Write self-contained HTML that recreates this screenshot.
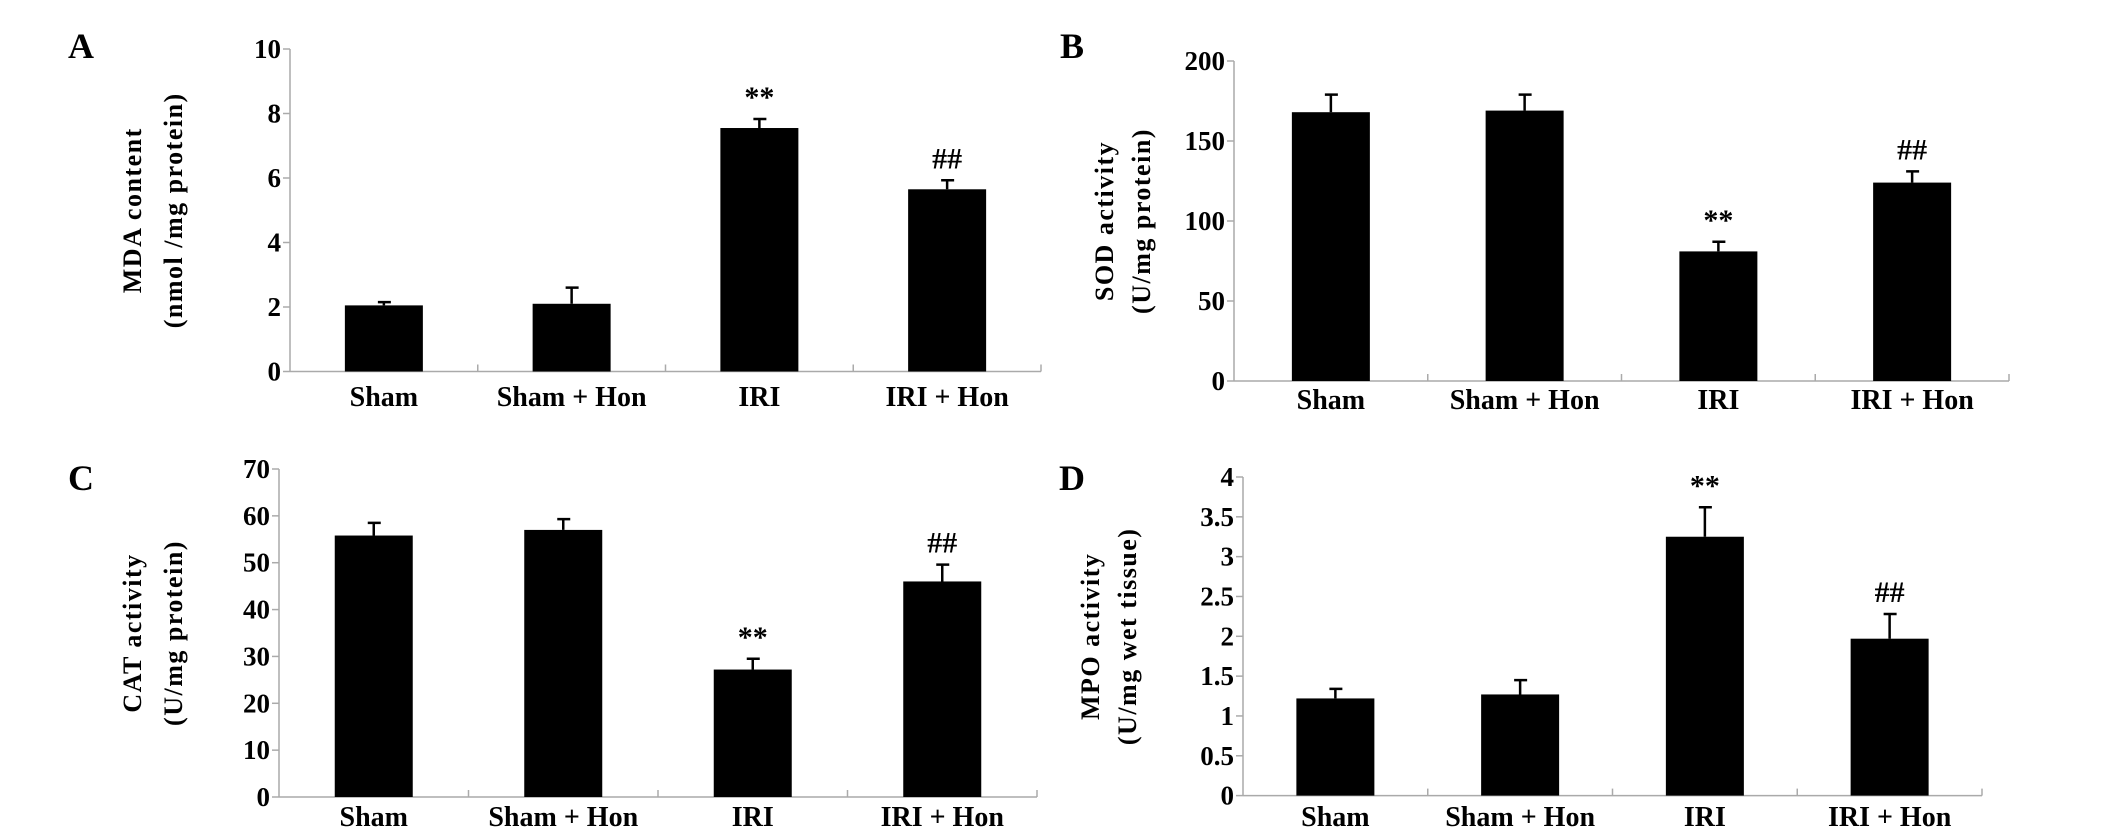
<!DOCTYPE html>
<html><head><meta charset="utf-8"><style>
html,body{margin:0;padding:0;background:#fff;}
svg{display:block;}
text{font-family:"Liberation Serif",serif;font-weight:bold;fill:#000;}
</style></head><body>
<svg id="fig" width="2126" height="833" viewBox="0 0 2126 833" xmlns="http://www.w3.org/2000/svg"></svg>
<script>
const categories = ["Sham", "Sham + Hon", "IRI", "IRI + Hon"];
const mdaValues = [2.05, 2.1, 7.55, 5.65];
const mdaErrors = [0.1, 0.5, 0.28, 0.28];
const mdaTicks = [0, 2, 4, 6, 8, 10];
const sodValues = [168, 169, 81, 124];
const sodErrors = [11, 10, 6, 7];
const sodTicks = [0, 50, 100, 150, 200];
const catValues = [55.8, 57, 27.2, 46];
const catErrors = [2.7, 2.3, 2.3, 3.6];
const catTicks = [0, 10, 20, 30, 40, 50, 60, 70];
const mpoValues = [1.22, 1.27, 3.25, 1.97];
const mpoErrors = [0.12, 0.18, 0.37, 0.31];
const mpoTickLabels = ["0", "0.5", "1", "1.5", "2", "2.5", "3", "3.5", "4"];
const mpoTicks = [0, 0.5, 1, 1.5, 2, 2.5, 3, 3.5, 4];
const sigMarks = ["", "", "**", "##"];

const NS = "http://www.w3.org/2000/svg";
const svg = document.getElementById("fig");
function mk(tag, attrs, parent) {
  const e = document.createElementNS(NS, tag);
  for (const k in attrs) e.setAttribute(k, attrs[k]);
  (parent || svg).appendChild(e);
  return e;
}

const panels = [
  {id:"a", letter:"A", lx:81, ly:58, x0:290, x1:1041, yTop:49, yZero:371.5, max:10,
   values:mdaValues, errors:mdaErrors, ticks:mdaTicks, tickLabels:mdaTicks.map(String),
   t1:"MDA content", t2:"(nmol /mg protein)", tx1:132, tx2:173, labY:406},
  {id:"b", letter:"B", lx:1072, ly:58, x0:1234, x1:2009, yTop:61, yZero:381, max:200,
   values:sodValues, errors:sodErrors, ticks:sodTicks, tickLabels:sodTicks.map(String),
   t1:"SOD activity", t2:"(U/mg protein)", tx1:1104, tx2:1141, labY:409},
  {id:"c", letter:"C", lx:81, ly:490, x0:279, x1:1037, yTop:469, yZero:797, max:70,
   values:catValues, errors:catErrors, ticks:catTicks, tickLabels:catTicks.map(String),
   t1:"CAT activity", t2:"(U/mg protein)", tx1:132, tx2:173, labY:826},
  {id:"d", letter:"D", lx:1072, ly:490, x0:1243, x1:1982, yTop:477, yZero:795.6, max:4,
   values:mpoValues, errors:mpoErrors, ticks:mpoTicks, tickLabels:mpoTickLabels,
   t1:"MPO activity", t2:"(U/mg wet tissue)", tx1:1090, tx2:1127, labY:826}
];

panels.forEach(p => {
  const g = mk("g", {});
  
  
  const yScale = v => p.yZero - (v / p.max) * (p.yZero - p.yTop);
  const band = (p.x1 - p.x0) / categories.length;
  const bw = 78;

  const L = mk("text", {x:p.lx, y:p.ly, "font-size":36, "text-anchor":"middle"}, g);
  L.textContent = p.letter;
  
  

  const ya = mk("line", {x1:p.x0, y1:p.yTop, x2:p.x0, y2:p.yZero, stroke:"#aaa", "stroke-width":1.5}, g);
  
  
  const xa = mk("line", {x1:p.x0, y1:p.yZero, x2:p.x1, y2:p.yZero, stroke:"#aaa", "stroke-width":1.5}, g);
  
  

  p.ticks.forEach((t, i) => {
    const y = yScale(t);
    mk("line", {x1:p.x0 - 7, y1:y, x2:p.x0, y2:y, stroke:"#aaa", "stroke-width":1.5}, g);
    const tl = mk("text", {x:p.x0 - 9, y:y + 9, "font-size":27, "text-anchor":"end"}, g);
    tl.textContent = p.tickLabels[i];
    
    
  });
  for (let i = 1; i <= categories.length; i++) {
    const x = p.x0 + band * i;
    mk("line", {x1:x, y1:p.yZero - 7, x2:x, y2:p.yZero, stroke:"#aaa", "stroke-width":1.5}, g);
  }

  categories.forEach((c, i) => {
    const cx = p.x0 + band * (i + 0.5);
    const v = p.values[i], e = p.errors[i];
    const yb = yScale(v), ye = yScale(v + e);
    const bar = mk("rect", {x:cx - bw / 2, y:yb, width:bw, height:p.yZero - yb, fill:"#000"}, g);
    
    
    const eb = mk("path", {d:`M${cx} ${yb} V${ye} M${cx - 6} ${ye} H${cx + 7}`, stroke:"#000", "stroke-width":2.5, fill:"none"}, g);
    
    
    if (sigMarks[i]) {
      const s = mk("text", {x:cx, y:ye - 12, "font-size":30, "text-anchor":"middle"}, g);
      s.textContent = sigMarks[i];
      
      
    }
    const cl = mk("text", {x:cx, y:p.labY, "font-size":28, "text-anchor":"middle"}, g);
    cl.textContent = c;
    
    
  });

  const midY = (p.yTop + p.yZero) / 2;
  [[p.t1, p.tx1], [p.t2, p.tx2]].forEach(([t, x], k) => {
    const tt = mk("text", {x:x, y:midY, "font-size":26, "text-anchor":"middle", "letter-spacing":1.5,
      transform:`rotate(-90 ${x} ${midY})`, dy:9}, g);
    tt.textContent = t;
    
    
  });
});
</script>
</body></html>
